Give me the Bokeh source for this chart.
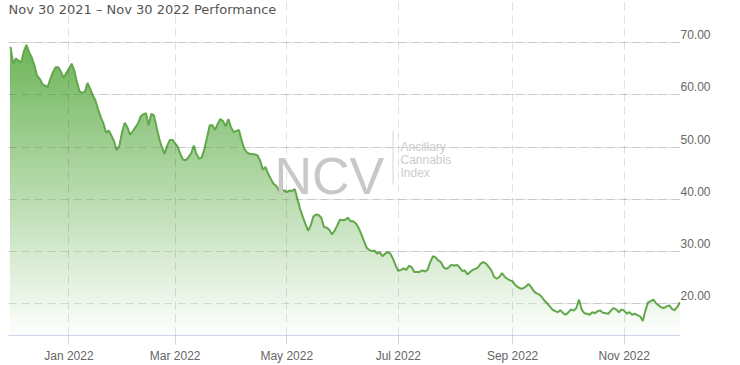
import numpy as np
from bokeh.plotting import figure
from bokeh.models import (Range1d, LinearAxis, FixedTicker, NumeralTickFormatter,
                          Label, BoxAnnotation, Grid)
from bokeh.embed import file_html
from bokeh.resources import INLINE

# ---- data (x = trading-day number since Nov 30 2021) ----
price = [69.2, 66.0, 67.0, 66.6, 66.2, 68.3, 69.6, 68.2, 67.2, 65.7,
         63.7, 63.1, 62.1, 61.8, 61.5, 63.1, 64.4, 65.3, 65.3, 64.4,
         63.3, 64.2, 65.0, 66.0, 64.7, 62.5, 60.7, 60.4, 60.6, 62.3,
         61.2, 59.9, 58.9, 57.2, 55.7, 54.5, 52.8, 53.2, 52.2, 51.1,
         49.4, 50.3, 52.9, 54.7, 53.8, 52.4, 53.0, 53.8, 54.5, 55.9,
         56.3, 56.5, 54.2, 56.4, 56.1, 53.8, 51.6, 50.0, 48.7, 50.3,
         51.4, 51.4, 50.7, 50.0, 48.6, 47.6, 47.5, 48.1, 48.8, 50.3,
         48.7, 47.8, 48.0, 49.7, 51.9, 54.2, 54.2, 53.3, 54.5, 55.4,
         55.0, 54.0, 55.4, 53.8, 52.9, 53.1, 53.3, 51.3, 49.7, 49.0,
         48.7, 48.7, 48.6, 48.4, 47.4, 45.7, 46.2, 44.9, 43.9, 43.0,
         42.6, 41.8, 41.1, 41.8, 41.4, 41.7, 41.6, 42.0, 40.1, 38.2,
         36.7, 35.3, 34.0, 35.0, 36.7, 37.1, 37.0, 36.5, 34.7, 34.6,
         34.2, 33.3, 34.0, 35.0, 36.1, 36.0, 36.1, 36.5, 35.8, 35.8,
         35.4, 34.6, 33.4, 32.1, 30.8, 30.3, 30.1, 30.2, 29.6, 29.9,
         29.1, 29.6, 29.9, 29.6, 28.6, 27.3, 26.3, 26.5, 26.8, 26.5,
         27.3, 27.0, 26.1, 26.1, 26.1, 26.4, 26.2, 26.5, 28.0, 29.1,
         28.9, 28.3, 28.0, 27.0, 26.7, 27.0, 27.5, 27.3, 27.5, 27.0,
         26.3, 26.4, 25.6, 26.1, 26.5, 26.7, 27.0, 27.7, 28.0, 27.7,
         27.1, 26.4, 25.2, 24.8, 25.1, 25.9, 25.2, 24.8, 24.5, 24.3,
         23.6, 23.2, 22.9, 23.0, 23.3, 23.8, 23.2, 22.4, 22.0, 21.8,
         21.3, 20.6, 20.1, 19.5, 18.9, 18.6, 18.4, 18.8, 18.2, 17.9,
         18.4, 18.9, 18.7, 19.2, 20.8, 18.9, 18.2, 18.1, 17.9, 18.4,
         18.2, 18.6, 18.7, 18.3, 18.2, 18.1, 18.7, 19.2, 18.9, 18.4,
         18.9, 18.7, 18.1, 18.4, 17.9, 18.1, 17.8, 17.6, 16.7, 18.7,
         20.3, 20.5, 20.8, 20.1, 19.7, 19.3, 19.2, 19.5, 19.7, 19.0,
         18.8, 19.4, 20.3]
trading_day = list(range(len(price)))

tick_days = [22, 62, 104, 146, 189, 231]
tick_labels = ["Jan 2022", "Mar 2022", "May 2022", "Jul 2022", "Sep 2022", "Nov 2022"]
price_ticks = [20, 30, 40, 50, 60, 70]
title_text = "Nov 30 2021 \u2013 Nov 30 2022 Performance"
y_title = "Price"
wm_big = "NCV"
wm_small = ["Ancillary", "Cannabis", "Index"]

# ---- figure ----
Y0, Y1 = 13.93, 78.10
X0, X1 = -0.75, 252.2
p = figure(width=740, height=365, output_backend="svg", toolbar_location=None,
           x_range=Range1d(X0, X1), y_range=Range1d(Y0, Y1),
           y_axis_location=None,
           min_border_left=8, min_border_right=60, min_border_top=0, min_border_bottom=30)
p.outline_line_color = None
p.background_fill_color = "white"
p.border_fill_color = "white"

# gradient-like fill: layered areas, from deep green at top to white at bottom
vals = np.array(price)
days = np.array(trading_day)
top_rgb = np.array([110, 181, 90])
white = np.array([255, 255, 255])
g_top = 70.0
N = 70
p.varea(x=days, y1=Y0, y2=vals, fill_color="#%02x%02x%02x" % tuple(top_rgb))
for k in range(1, N):
    level = g_top - k * (g_top - Y0) / N
    t = k / N
    c = np.round(top_rgb + (white - top_rgb) * t).astype(int)
    p.varea(x=days, y1=Y0, y2=np.minimum(vals, level),
            fill_color="#%02x%02x%02x" % tuple(c))

p.line(days, vals, line_color="#62a84b", line_width=2)

# grids (drawn above the fill, translucent)
p.xgrid.ticker = FixedTicker(ticks=tick_days)
p.xgrid.grid_line_color = "#000000"
p.xgrid.grid_line_alpha = 0.12
p.xgrid.grid_line_dash = "8 5"
p.xgrid.level = "guide"
yg = Grid(dimension=1, ticker=FixedTicker(ticks=price_ticks),
          grid_line_color="#000000", grid_line_alpha=0.12, grid_line_dash="8 5",
          level="guide")
p.add_layout(yg)

# x axis
xa = p.xaxis[0]
xa.ticker = FixedTicker(ticks=tick_days)
xa.major_label_overrides = {d: l for d, l in zip(tick_days, tick_labels)}
xa.axis_line_color = "#ccd6eb"
xa.major_tick_line_color = "#ccd6eb"
xa.major_tick_out = 9
xa.major_tick_in = 0
xa.minor_tick_line_color = None
xa.major_label_standoff = 4
xa.major_label_text_font = "Liberation Sans"
xa.major_label_text_font_size = "12px"
xa.major_label_text_color = "#666666"

# right axis, labels sit just above their grid lines
shift = 8 / 5.22
p.extra_y_ranges = {"lbl": Range1d(Y0 - shift, Y1 - shift)}
ya = LinearAxis(y_range_name="lbl", ticker=FixedTicker(ticks=price_ticks),
                formatter=NumeralTickFormatter(format="0.00"))
ya.axis_line_color = None
ya.major_tick_line_color = None
ya.minor_tick_line_color = None
ya.major_tick_out = 0
ya.major_tick_in = 0
ya.major_label_standoff = 0
ya.major_label_text_font = "Liberation Sans"
ya.major_label_text_font_size = "12px"
ya.major_label_text_color = "#666666"
p.add_layout(ya, "right")

FH = 335  # frame height in px
p.add_layout(Label(x=0, y=FH - 9, x_units="screen", y_units="screen", text=title_text,
                   text_font="DejaVu Sans", text_font_size="13px", text_color="#555555",
                   text_baseline="middle", text_align="left"))
p.add_layout(Label(x=717, y=FH - 183, x_units="screen", y_units="screen", text=y_title,
                   angle=-np.pi / 2, text_font="Liberation Sans", text_font_size="12px",
                   text_color="#333333", text_baseline="middle", text_align="center"))

# watermark
p.add_layout(Label(x=266, y=FH - 175, x_units="screen", y_units="screen", text=wm_big,
                   text_font="Liberation Sans", text_font_size="52px", text_color="#c8c8c8",
                   text_baseline="alphabetic", text_align="left"))
p.add_layout(BoxAnnotation(left=384, right=385, bottom=FH - 184, top=FH - 130,
                           left_units="screen", right_units="screen",
                           bottom_units="screen", top_units="screen",
                           fill_color="#d8d8d8", fill_alpha=1, line_color=None))
for i, w in enumerate(wm_small):
    p.add_layout(Label(x=392, y=FH - 146 - 13 * i, x_units="screen", y_units="screen",
                       text=w, text_font="Liberation Sans", text_font_size="12px",
                       text_color="#cccccc", text_baseline="alphabetic", text_align="left"))

open("out.html", "w").write(file_html(p, INLINE))
